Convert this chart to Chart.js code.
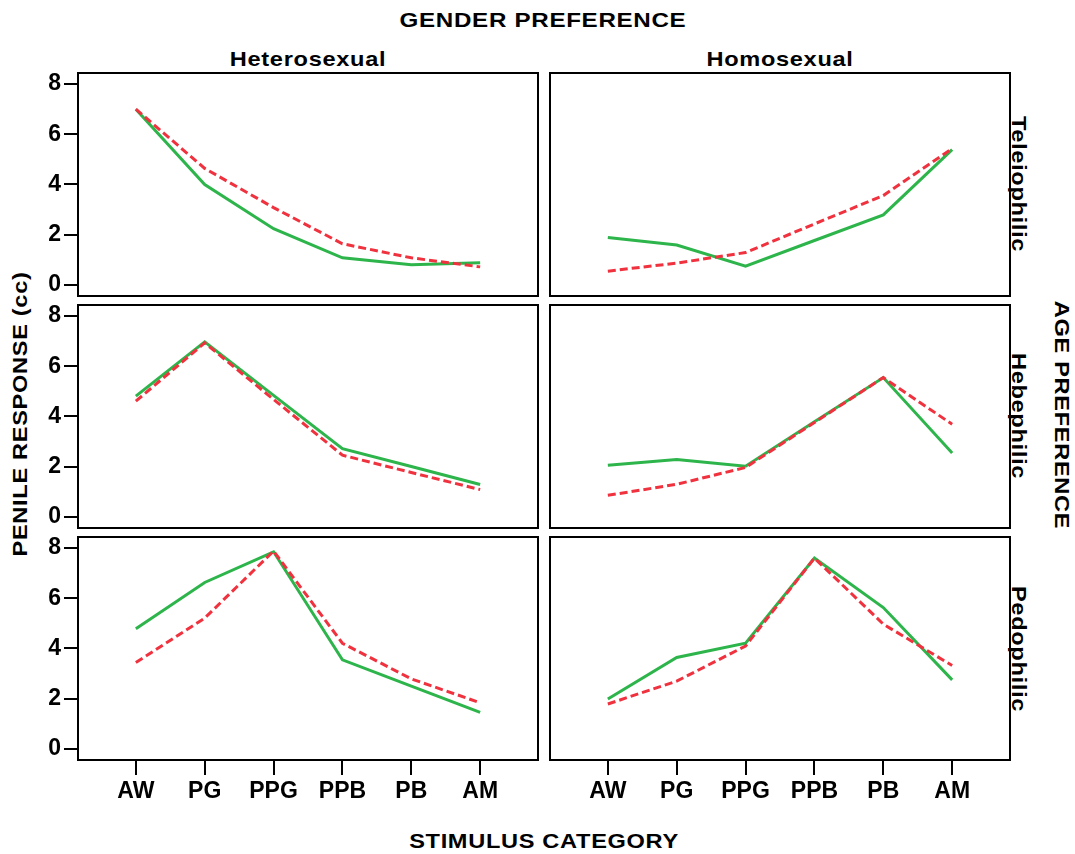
<!DOCTYPE html>
<html>
<head>
<meta charset="utf-8">
<script src="https://cdn.jsdelivr.net/npm/chart.js@4/dist/chart.umd.min.js"></script>
<style>
  body { margin: 0; background: #fff; width: 1075px; height: 854px; position: relative; overflow: hidden;
         font-family: "Liberation Sans", Arial, sans-serif; font-weight: bold; color: #000; }
  .lbl { position: absolute; white-space: nowrap; font-size: 20.5px; letter-spacing: 0.6px; line-height: 1;
         transform: translate(-50%, -50%) scaleX(1.15); }
  .up { transform: translate(-50%, -50%) rotate(-90deg) scaleX(1.15); }
  .down { transform: translate(-50%, -50%) rotate(90deg) scaleX(1.15); }
  .box { position: absolute; }
</style>
</head>
<body>

<div class="lbl" style="left:543px;top:19px;font-size:21px">GENDER PREFERENCE</div>
<div class="lbl" style="left:308px;top:59px">Heterosexual</div>
<div class="lbl" style="left:780px;top:59px">Homosexual</div>
<div class="lbl up" style="left:20px;top:414px">PENILE RESPONSE (cc)</div>
<div class="lbl down" style="left:1062px;top:415px">AGE PREFERENCE</div>
<div class="lbl down" style="left:1019px;top:184px">Teleiophilic</div>
<div class="lbl down" style="left:1019px;top:416px">Hebephilic</div>
<div class="lbl down" style="left:1019px;top:649px">Pedophilic</div>
<div class="lbl" style="left:544px;top:841px">STIMULUS CATEGORY</div>

<div class="box" id="p0"></div>
<div class="box" id="p1"></div>
<div class="box" id="p2"></div>
<div class="box" id="p3"></div>
<div class="box" id="p4"></div>
<div class="box" id="p5"></div>

<script>
const categories = ['AW', 'PG', 'PPG', 'PPB', 'PB', 'AM'];
const yTicks = [0, 2, 4, 6, 8];

// rows: Teleiophilic, Hebephilic, Pedophilic ; cols: Heterosexual, Homosexual
const heteroTeleSolid  = [7.0, 4.0, 2.24, 1.08, 0.8, 0.88];
const heteroTeleDashed = [7.0, 4.64, 3.08, 1.64, 1.08, 0.72];
const homoTeleSolid    = [1.89, 1.59, 0.75, 1.77, 2.79, 5.39];
const homoTeleDashed   = [0.55, 0.87, 1.29, 2.43, 3.56, 5.43];

const heteroHebeSolid  = [4.81, 6.97, 4.84, 2.72, 2.01, 1.29];
const heteroHebeDashed = [4.61, 6.93, 4.68, 2.46, 1.77, 1.09];
const homoHebeSolid    = [2.06, 2.29, 2.02, 3.79, 5.55, 2.55];
const homoHebeDashed   = [0.86, 1.30, 1.97, 3.76, 5.55, 3.69];

const heteroPedoSolid  = [4.79, 6.63, 7.85, 3.55, 2.50, 1.46];
const heteroPedoDashed = [3.44, 5.21, 7.88, 4.21, 2.79, 1.84];
const homoPedoSolid    = [1.99, 3.64, 4.21, 7.60, 5.63, 2.75];
const homoPedoDashed   = [1.79, 2.70, 4.10, 7.60, 4.97, 3.32];

const green = '#2db54b';
const red = '#f0323f';
const tickFont = { family: '"Liberation Sans", Arial, sans-serif', weight: 'bold', size: 23 };

const rowTops = [73, 305, 537];
const colLefts = [78, 550];
const panelW = 460, panelH = 223;
const yAxisW = 78, xAxisH = 60;

// box around each panel
const frame = {
  id: 'frame',
  afterDraw(chart) {
    const { ctx, chartArea: a } = chart;
    ctx.save();
    ctx.strokeStyle = '#000';
    ctx.lineWidth = 2;
    ctx.strokeRect(a.left, a.top, a.right - a.left, a.bottom - a.top);
    ctx.restore();
  }
};

function makePanel(n, row, col, solid, dashed) {
  const showX = row === 2;
  const showY = col === 0;
  const w = (showY ? yAxisW : 2) + panelW + 2;
  const h = 2 + panelH + (showX ? xAxisH : 2);

  const box = document.getElementById('p' + n);
  box.style.left = (colLefts[col] - (showY ? yAxisW : 2)) + 'px';
  box.style.top = (rowTops[row] - 2) + 'px';
  const canvas = document.createElement('canvas');
  canvas.width = w;
  canvas.height = h;
  box.appendChild(canvas);

  new Chart(canvas, {
    type: 'line',
    data: {
      datasets: [
        {
          label: 'dashed',
          data: dashed.map((v, i) => ({ x: i, y: v })),
          borderColor: red,
          borderWidth: 3,
          borderDash: [8, 4],
          pointRadius: 0,
          tension: 0
        },
        {
          label: 'solid',
          data: solid.map((v, i) => ({ x: i, y: v })),
          borderColor: green,
          borderWidth: 3,
          pointRadius: 0,
          tension: 0
        }
      ]
    },
    options: {
      responsive: false,
      animation: false,
      events: [],
      layout: { padding: { top: 2, right: 2, left: showY ? 0 : 2, bottom: showX ? 0 : 2 } },
      plugins: { legend: { display: false }, tooltip: { enabled: false } },
      scales: {
        x: {
          type: 'linear',
          display: showX,
          min: -0.84,
          max: 5.84,
          afterBuildTicks: a => { a.ticks = categories.map((c, i) => ({ value: i })); },
          afterFit: a => { if (showX) { a.height = xAxisH; a.paddingLeft = 0; a.paddingRight = 0; } },
          border: { display: false },
          grid: { drawOnChartArea: false, drawTicks: true, tickLength: 15, lineWidth: 2, color: '#000' },
          ticks: { callback: v => categories[v], font: tickFont, color: '#000', padding: 3, maxRotation: 0, autoSkip: false }
        },
        y: {
          display: showY,
          min: -0.44,
          max: 8.44,
          afterBuildTicks: a => { a.ticks = yTicks.map(v => ({ value: v })); },
          afterFit: a => { if (showY) { a.width = yAxisW; a.paddingTop = 0; a.paddingBottom = 0; } },
          border: { display: false },
          grid: { drawOnChartArea: false, drawTicks: true, tickLength: 14, lineWidth: 2, color: '#000' },
          ticks: { font: tickFont, color: '#000', padding: 3 }
        }
      }
    },
    plugins: [frame]
  });
}

makePanel(0, 0, 0, heteroTeleSolid, heteroTeleDashed);
makePanel(1, 0, 1, homoTeleSolid, homoTeleDashed);
makePanel(2, 1, 0, heteroHebeSolid, heteroHebeDashed);
makePanel(3, 1, 1, homoHebeSolid, homoHebeDashed);
makePanel(4, 2, 0, heteroPedoSolid, heteroPedoDashed);
makePanel(5, 2, 1, homoPedoSolid, homoPedoDashed);
</script>
</body>
</html>
